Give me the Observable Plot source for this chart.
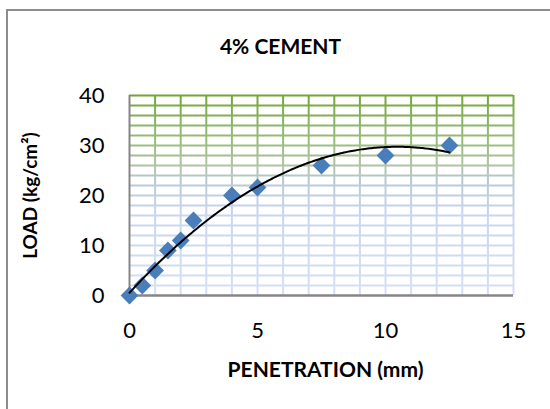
<!DOCTYPE html>
<html>
<head>
<meta charset="utf-8">
<script src="https://cdn.jsdelivr.net/npm/d3@7"></script>
<script src="https://cdn.jsdelivr.net/npm/@observablehq/plot@0.6"></script>
<style>
  html, body { margin: 0; padding: 0; background: #fff; overflow: hidden; }
  #wrap { position: relative; width: 550px; height: 409px; overflow: hidden; }
  #frame { position: absolute; left: 6px; top: 9px; width: 600px; height: 460px;
           border: 2px solid #8c8c8c; box-sizing: border-box; }
  #chart { position: absolute; left: 0; top: 0; }
</style>
</head>
<body>
<div id="wrap"><div id="frame"></div><div id="chart"></div></div>
<script>
// CBR test: load vs penetration, 4% cement
const penetration = [0, 0.5, 1, 1.5, 2, 2.5, 4, 5, 7.5, 10, 12.5];
const load = [0, 2, 5, 9, 11, 15, 20, 21.6, 26, 28, 30];
const xTicks = [0, 5, 10, 15];
const yTicks = [0, 10, 20, 30, 40];
const title = "4% CEMENT";
const xLabel = "PENETRATION (mm)";
const yLabel = "LOAD (kg/cm\u00B2)";

const points = penetration.map((x, i) => ({x, y: load[i]}));

// least-squares polynomial trendline of order 2
function quadFit(xs, ys) {
  const S = k => d3.sum(xs, x => x ** k);
  const T = k => d3.sum(xs, (x, i) => ys[i] * x ** k);
  const A = [[S(0), S(1), S(2), T(0)], [S(1), S(2), S(3), T(1)], [S(2), S(3), S(4), T(2)]];
  for (let i = 0; i < 3; i++) {
    for (let j = i + 1; j < 3; j++) {
      const f = A[j][i] / A[i][i];
      for (let k = i; k < 4; k++) A[j][k] -= f * A[i][k];
    }
  }
  const c = [0, 0, 0];
  for (let i = 2; i >= 0; i--) {
    let s = A[i][3];
    for (let k = i + 1; k < 3; k++) s -= A[i][k] * c[k];
    c[i] = s / A[i][i];
  }
  return x => c[0] + c[1] * x + c[2] * x * x;
}
const fit = quadFit(penetration, load);
const xMax = d3.max(penetration);
const trend = d3.range(0, 201).map(i => {
  const x = xMax * i / 200;
  return {x, y: fit(x)};
});

// gridline colour fades from green at the top to pale blue at the bottom
const gridColor = d3.scaleLinear()
  .domain([0, 16, 22, 28, 34, 40])
  .range(["#d5e0f3", "#c9d6ef", "#bccbd9", "#a5c08f", "#8db66a", "#72a535"])
  .interpolate(d3.interpolateRgb);

const hLines = d3.range(2, 41, 2).map(v => ({v, c: gridColor(v)}));
const vSegs = [];
for (let x = 1; x <= 15; x++) {
  for (let y = 0; y < 40; y += 2) vSegs.push({x, y1: y, y2: y + 2, c: gridColor(y + 1)});
}

const chart = Plot.plot({
  width: 550,
  height: 409,
  marginLeft: 129,
  marginRight: 37,
  marginTop: 95,
  marginBottom: 114,
  style: {fontFamily: "Lato, 'Open Sans', sans-serif", fontSize: "22px", color: "#000", background: "transparent"},
  x: {domain: [0, 15]},
  y: {domain: [0, 40]},
  color: {type: "identity"},
  marks: [
    Plot.ruleX(vSegs, {x: "x", y1: "y1", y2: "y2", stroke: "c", strokeWidth: 2}),
    Plot.ruleY(hLines, {y: "v", stroke: "c", strokeWidth: 2}),
    Plot.ruleX([0], {stroke: "#868686", strokeWidth: 2}),
    Plot.ruleY([0], {stroke: "#868686", strokeWidth: 2.5}),
    Plot.axisX({ticks: xTicks, tickSize: 0, tickPadding: 27, label: null, fontSize: 22}),
    Plot.axisY({ticks: yTicks, tickSize: 0, tickPadding: 25, label: null, fontSize: 22}),
    Plot.dot(points, {x: "x", y: "y", symbol: "diamond2", r: 8, fill: "#4a7ebb", stroke: "none"}),
    Plot.line(trend, {x: "x", y: "y", stroke: "#000", strokeWidth: 2}),
    Plot.text([title], {text: d => d, frameAnchor: "top", lineAnchor: "middle", textAnchor: "middle",
      dx: -41, dy: -48, fontSize: 21, fontWeight: "bold"}),
    Plot.text([xLabel], {text: d => d, frameAnchor: "bottom", lineAnchor: "middle", textAnchor: "middle",
      dx: 4, dy: 75, fontSize: 21, fontWeight: "bold"}),
    Plot.text([yLabel], {text: d => d, frameAnchor: "left", lineAnchor: "middle", textAnchor: "middle",
      dx: -99, dy: 0, rotate: -90, fontSize: 19, fontWeight: "bold"})
  ]
});
document.getElementById("chart").appendChild(chart);
</script>
</body>
</html>
